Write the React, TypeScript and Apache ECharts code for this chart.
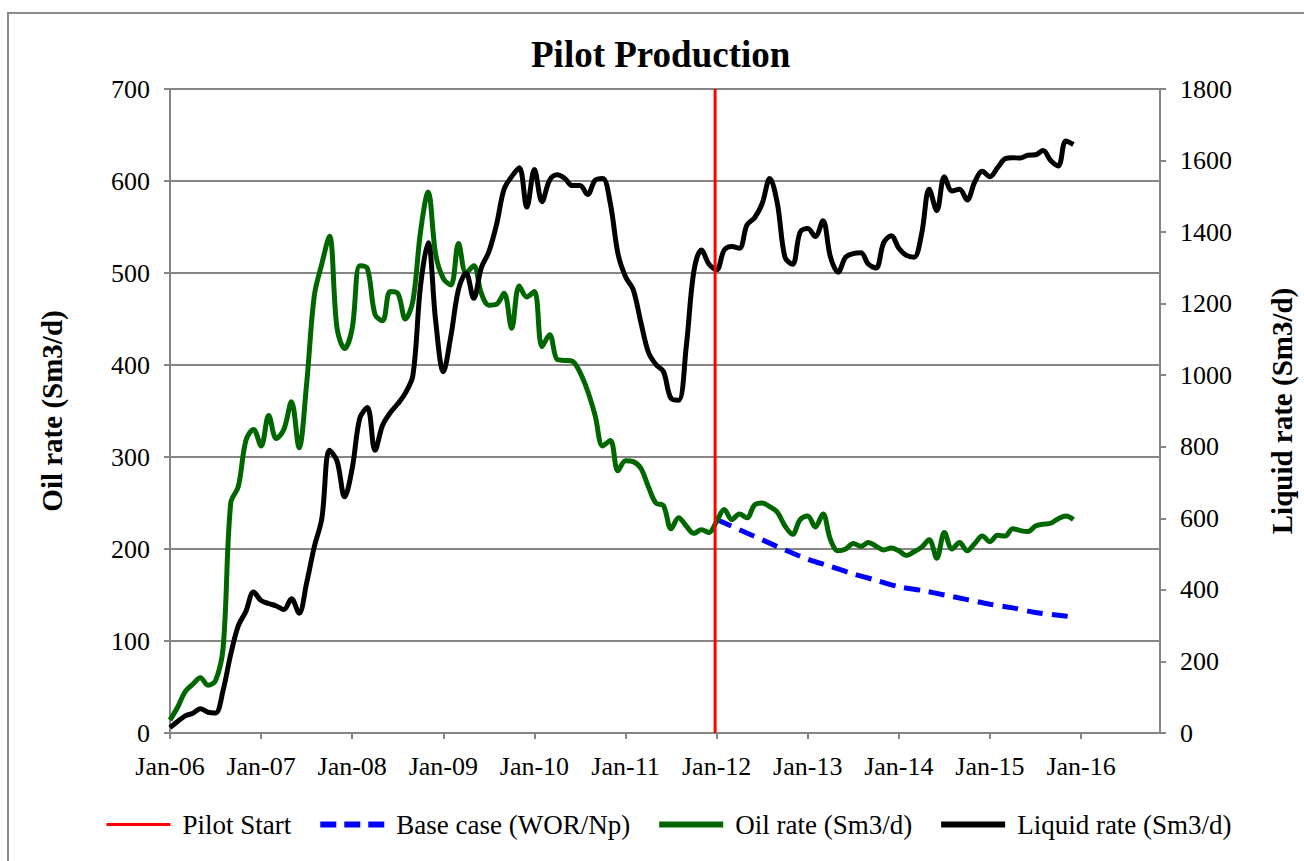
import React, { useEffect, useRef } from "react";
import * as echarts from "echarts";

// x positions are months since Jan-2006 (0 = Jan-06)
const xTickLabels = ["Jan-06", "Jan-07", "Jan-08", "Jan-09", "Jan-10", "Jan-11", "Jan-12", "Jan-13", "Jan-14", "Jan-15", "Jan-16"];

// Liquid rate (Sm3/d), monthly from Jan-06
const liquidRate = [
  15, 32, 48, 55, 68, 58, 56, 120, 220, 300, 340, 394,
  370, 362, 355, 345, 375, 335, 420, 520, 600, 790, 760, 660,
  740, 880, 910, 790, 860, 895, 920, 950, 1000, 1250, 1370, 1150,
  1010, 1110, 1240, 1285, 1215, 1300, 1345, 1420, 1520, 1555, 1580, 1470,
  1575, 1485, 1545, 1560, 1550, 1530, 1530, 1505, 1545, 1550, 1480, 1340,
  1275, 1240, 1150, 1065, 1030, 1010, 935, 930, 1080, 1290, 1350, 1310,
  1295, 1350, 1360, 1355, 1420, 1440, 1480, 1550, 1480, 1330, 1310, 1400,
  1410, 1388, 1432, 1330, 1288, 1330, 1340, 1342, 1310, 1300, 1370, 1390,
  1355, 1335, 1330, 1395, 1520, 1460, 1555, 1515, 1520, 1490, 1540, 1570,
  1555, 1580, 1605, 1608, 1607, 1615, 1616, 1628, 1600, 1585, 1655, 1645,
];

// Oil rate (Sm3/d), monthly from Jan-06
const oilRate = [
  14, 28, 45, 53, 60, 52, 57, 93, 250, 268, 318, 330,
  312, 345, 320, 330, 360, 310, 380, 475, 510, 540, 440, 418,
  440, 508, 505, 455, 448, 480, 478, 450, 470, 545, 588, 520,
  494, 487, 532, 500, 508, 478, 465, 466, 478, 440, 486, 474,
  480, 420, 433, 406, 405, 404, 392, 372, 345, 312, 318, 285,
  296, 295, 288, 268, 250, 247, 222, 234, 225, 217, 221, 218,
  230, 243, 232, 238, 234, 248, 250, 246, 240, 225, 216, 232,
  236, 224, 238, 210, 198, 200, 206, 203, 207, 203, 199, 201,
  198, 193, 197, 202, 210, 190, 218, 200, 207, 198, 206, 214,
  208, 215, 214, 222, 220, 219, 225, 227, 228, 233, 236, 232,
];

// Base case (WOR/Np)
const baseCaseMonths = [72, 75, 78, 81, 84, 87, 90, 93, 96, 99, 102, 105, 108, 111, 114, 117, 119];
const baseCase = [232, 221, 210, 199, 189, 181, 173, 166, 159, 155, 150, 145, 140, 136, 131, 128, 126];

// Pilot start (month index) and the vertical extent of its marker line
const pilotStartMonth = 71.8;
const pilotStartRange = [0, 700];

const FONT = "Liberation Serif";
const GRID = "#868686";

export default function App() {
  const ref = useRef<HTMLDivElement>(null);
  useEffect(() => {
    if (!ref.current) return;
    const chart = echarts.init(ref.current, undefined, { renderer: "svg" });
    const option = {
      animation: false,
      backgroundColor: "#ffffff",
      textStyle: { fontFamily: FONT },
      title: {
        text: "Pilot Production",
        left: 526,
        top: 31,
        textStyle: { fontFamily: FONT, fontSize: 37, fontWeight: "bold", color: "#000" },
      },
      graphic: [
        {
          type: "rect",
          silent: true,
          shape: { x: 8, y: 13, width: 1400, height: 1000 },
          style: { fill: "none", stroke: "#8c8c8c", lineWidth: 2 },
        },
      ],
      legend: {
        bottom: 18,
        left: 100,
        itemWidth: 64,
        itemHeight: 14,
        itemGap: 26,
        itemStyle: { opacity: 0 },
        textStyle: { fontFamily: FONT, fontSize: 27, color: "#000", padding: [0, 0, 0, 7] },
        data: [
          { name: "Pilot Start", lineStyle: { color: "#ff0000", width: 3 } },
          { name: "Base case (WOR/Np)", lineStyle: { color: "#0000ff", width: 6, type: [16, 8] } },
          { name: "Oil rate (Sm3/d)", lineStyle: { color: "#006600", width: 6 } },
          { name: "Liquid rate (Sm3/d)", lineStyle: { color: "#000000", width: 6 } },
        ],
      },
      grid: { left: 170, right: 141, top: 89, bottom: 128 },
      xAxis: {
        type: "value",
        min: 0,
        max: 130.4,
        interval: 12,
        axisLine: { show: true, lineStyle: { color: GRID, width: 2 } },
        axisTick: { show: true, length: 6, lineStyle: { color: GRID, width: 2 } },
        splitLine: { show: false },
        axisLabel: {
          fontFamily: FONT,
          fontSize: 26,
          color: "#000",
          margin: 20,
          showMaxLabel: false,
          formatter: (v: number) => (v % 12 === 0 && v / 12 < xTickLabels.length ? xTickLabels[v / 12] : ""),
        },
      },
      yAxis: [
        {
          type: "value",
          min: 0,
          max: 700,
          interval: 100,
          name: "Oil rate (Sm3/d)",
          nameLocation: "middle",
          nameRotate: 90,
          nameGap: 104,
          nameTextStyle: { fontFamily: FONT, fontSize: 29, fontWeight: "bold", color: "#000" },
          axisLine: { show: true, lineStyle: { color: GRID, width: 2 } },
          axisTick: { show: true, length: 6, lineStyle: { color: GRID, width: 2 } },
          splitLine: { show: true, lineStyle: { color: GRID, width: 2 } },
          axisLabel: { fontFamily: FONT, fontSize: 26, color: "#000", margin: 20, formatter: (v: number) => String(v) },
        },
        {
          type: "value",
          min: 0,
          max: 1800,
          interval: 200,
          position: "right",
          name: "Liquid rate (Sm3/d)",
          nameLocation: "middle",
          nameRotate: 90,
          nameGap: 107,
          nameTextStyle: { fontFamily: FONT, fontSize: 29, fontWeight: "bold", color: "#000" },
          axisLine: { show: true, lineStyle: { color: GRID, width: 2 } },
          axisTick: { show: true, length: 6, lineStyle: { color: GRID, width: 2 } },
          splitLine: { show: false },
          axisLabel: { fontFamily: FONT, fontSize: 26, color: "#000", margin: 20, formatter: (v: number) => String(v) },
        },
      ],
      series: [
        {
          name: "Pilot Start",
          type: "line",
          yAxisIndex: 0,
          symbol: "none",
          data: pilotStartRange.map((v) => [pilotStartMonth, v]),
          lineStyle: { color: "#ff0000", width: 3 },
          itemStyle: { color: "#ff0000" },
          z: 5,
        },
        {
          name: "Base case (WOR/Np)",
          type: "line",
          yAxisIndex: 0,
          symbol: "none",
          smooth: 0.3,
          data: baseCaseMonths.map((m, i) => [m, baseCase[i]]),
          lineStyle: { color: "#0000ff", width: 5, type: [16, 9] },
          itemStyle: { color: "#0000ff" },
          z: 3,
        },
        {
          name: "Oil rate (Sm3/d)",
          type: "line",
          yAxisIndex: 0,
          symbol: "none",
          smooth: 0.35,
          data: oilRate.map((v, i) => [i, v]),
          lineStyle: { color: "#006600", width: 5 },
          itemStyle: { color: "#006600" },
          z: 3,
        },
        {
          name: "Liquid rate (Sm3/d)",
          type: "line",
          yAxisIndex: 1,
          symbol: "none",
          smooth: 0.35,
          data: liquidRate.map((v, i) => [i, v]),
          lineStyle: { color: "#000000", width: 5 },
          itemStyle: { color: "#000000" },
          z: 4,
        },
      ],
    };
    chart.setOption(option as any);
    return () => chart.dispose();
  }, []);
  return (
    <div
      ref={ref}
      style={{ position: "fixed", left: 0, top: 0, width: 1304, height: 861, background: "#fff" }}
    />
  );
}
